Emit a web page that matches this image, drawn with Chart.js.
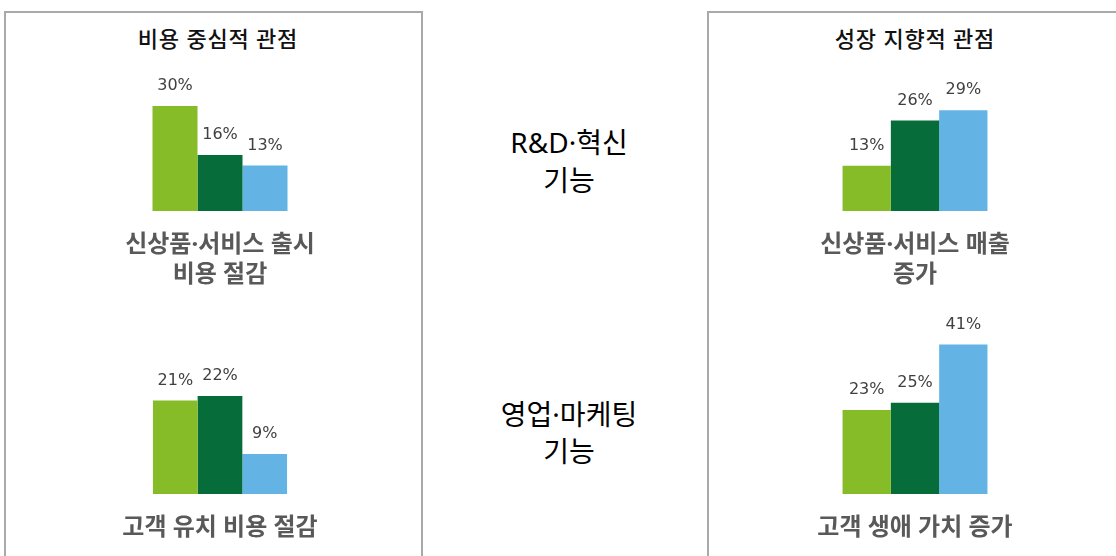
<!DOCTYPE html>
<html>
<head>
<meta charset="utf-8">
<script src="https://cdn.jsdelivr.net/npm/chart.js@4"></script>
<style>
  html, body { margin: 0; padding: 0; background: #fff; }
  body { width: 1116px; height: 556px; position: relative; overflow: hidden; font-family: "Noto Sans", "Noto Sans CJK KR", sans-serif; }
  .panel { position: absolute; top: 11px; height: 600px; border: 2px solid #a9a9a9; border-bottom: none; }
  .title { position: absolute; width: 240px; text-align: center; font-size: 22px; font-weight: 500; line-height: 30px; color: #111; letter-spacing: 0.8px; }
  .rowlabel { position: absolute; left: 469px; width: 200px; text-align: center; font-size: 28px; color: #000; }
  canvas { position: absolute; }
</style>
</head>
<body>
<div class="panel" style="left:4px; width:415px;"></div>
<div class="panel" style="left:707px; width:500px;"></div>
<div id="t0" class="title" style="left:98px; top:23px;"></div>
<div id="t1" class="title" style="left:795px; top:23px;"></div>
<div id="r0" class="rowlabel" style="top:123px; line-height:38px;"></div>
<div id="r1" class="rowlabel" style="top:396px; line-height:37px;"></div>

<canvas id="c0" width="300" height="241" style="left:70px; top:50px;"></canvas>
<canvas id="c1" width="300" height="266" style="left:70px; top:290px;"></canvas>
<canvas id="c2" width="300" height="241" style="left:765px; top:50px;"></canvas>
<canvas id="c3" width="300" height="266" style="left:765px; top:290px;"></canvas>

<script>
const panelTitles = ['비용 중심적 관점', '성장 지향적 관점'];
const rowLabels = [['R&D·혁신', '기능'], ['영업·마케팅', '기능']];

// order: cost/R&D, cost/sales, growth/R&D, growth/sales
const categories = [
    ['신상품·서비스 출시', '비용 절감'],
    ['고객 유치 비용 절감'],
    ['신상품·서비스 매출', '증가'],
    ['고객 생애 가치 증가']
];
const seriesA = [30, 21, 13, 23];
const seriesB = [16, 22, 26, 25];
const seriesC = [13, 9, 29, 41];
const seriesColors = ['#86BC28', '#066C39', '#63B4E4'];

document.getElementById('t0').textContent = panelTitles[0];
document.getElementById('t1').textContent = panelTitles[1];
document.getElementById('r0').innerHTML = rowLabels[0].join('<br>');
document.getElementById('r1').innerHTML = rowLabels[1].join('<br>');

// per chart: axis band height, y max (sets bar scale), group width share
const layouts = [
    { axisH: 80, yMax: 46, catPct: 0.45 },
    { axisH: 62, yMax: 45.8, catPct: 0.447 },
    { axisH: 80, yMax: 46.3, catPct: 0.483 },
    { axisH: 62, yMax: 55.9, catPct: 0.483 }
];

const valueLabels = {
    id: 'valueLabels',
    afterDatasetsDraw(chart) {
        const ctx = chart.ctx;
        ctx.save();
        ctx.font = '16px "DejaVu Sans"';
        ctx.fillStyle = '#404040';
        ctx.textAlign = 'center';
        ctx.textBaseline = 'middle';
        chart.data.datasets.forEach((ds, i) => {
            chart.getDatasetMeta(i).data.forEach((bar, j) => {
                ctx.fillText(ds.data[j] + '%', bar.x, bar.y - 20);
            });
        });
        ctx.restore();
    }
};

for (let k = 0; k < 4; k++) {
    const lay = layouts[k];
    const values = [seriesA[k], seriesB[k], seriesC[k]];
    new Chart(document.getElementById('c' + k), {
        type: 'bar',
        data: {
            labels: [categories[k]],
            datasets: values.map((v, i) => ({
                data: [v],
                backgroundColor: seriesColors[i],
                borderWidth: 0,
                categoryPercentage: lay.catPct,
                barPercentage: 1
            }))
        },
        options: {
            responsive: false,
            animation: false,
            layout: { padding: 0 },
            plugins: { legend: { display: false }, tooltip: { enabled: false } },
            scales: {
                x: {
                    grid: { display: false, drawTicks: false },
                    border: { display: false },
                    ticks: {
                        padding: 20,
                        color: '#595959',
                        font: { family: '"Noto Sans", "Noto Sans CJK KR"', size: 24, weight: 'bold', lineHeight: 1.22 }
                    },
                    afterFit(scale) { scale.height = lay.axisH; }
                },
                y: { display: false, min: 0, max: lay.yMax }
            }
        },
        plugins: [valueLabels]
    });
}
</script>
</body>
</html>
